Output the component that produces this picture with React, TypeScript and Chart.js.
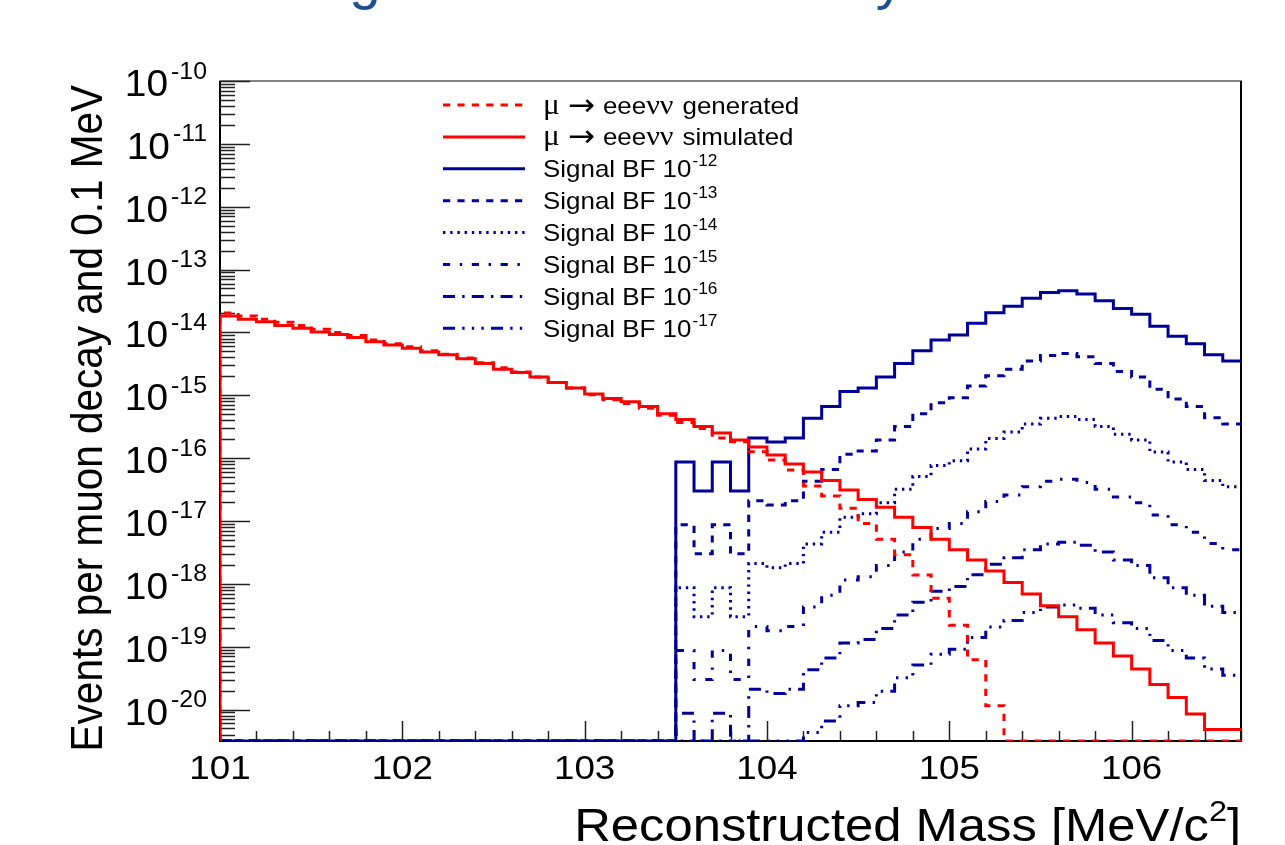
import React, { useEffect, useRef } from 'react';
import { Chart, registerables } from 'chart.js';

Chart.register(...registerables);

// ---------------- data ----------------
const X_MIN = 101.0;
const X_MAX = 106.6;
const BIN_WIDTH = 0.1;
const Y_MIN = 3.16e-21;
const Y_MAX = 1e-10;

const xTickValues = [101, 102, 103, 104, 105, 106];
const xTickLabels = ['101', '102', '103', '104', '105', '106'];
const yDecadeExponents = [-10, -11, -12, -13, -14, -15, -16, -17, -18, -19, -20];

const xAxisTitle = 'Reconstructed Mass [MeV/c';
const yAxisTitle = 'Events per muon decay and 0.1 MeV';
const slideTitle = 'Background and Sensitivity';

// mu -> eeevv (internal conversion), generated
const bgGenerated = [
  2.04e-14, 1.82e-14, 1.62e-14, 1.45e-14, 1.29e-14, 1.12e-14, 1.0e-14, 8.9e-15, 7.6e-15, 6.6e-15,
  5.9e-15, 5.1e-15, 4.5e-15, 3.9e-15, 3.3e-15, 2.75e-15, 2.35e-15, 1.95e-15, 1.6e-15, 1.3e-15,
  1.02e-15, 8.5e-16, 7.4e-16, 6.2e-16, 4.8e-16, 3.7e-16, 2.95e-16, 2.1e-16, 1.82e-16, 1.26e-16,
  9.3e-17, 6.5e-17, 3.6e-17, 2.5e-17, 1.6e-17, 9.1e-18, 5.1e-18, 2.9e-18, 1.38e-18, 5.9e-19,
  2.2e-19, 6.2e-20, 1.15e-20, 0, 0, 0, 0, 0, 0, 0,
  0, 0, 0, 0, 0, 0,
];

// mu -> eeevv, simulated
const bgSimulated = [
  1.82e-14, 1.62e-14, 1.48e-14, 1.29e-14, 1.17e-14, 1.02e-14, 9.3e-15, 8.3e-15, 7.1e-15, 6.3e-15,
  5.6e-15, 4.9e-15, 4.4e-15, 3.8e-15, 3.2e-15, 2.6e-15, 2.3e-15, 1.95e-15, 1.6e-15, 1.3e-15,
  1.05e-15, 8.9e-16, 7.9e-16, 6.6e-16, 5.1e-16, 4.1e-16, 3.2e-16, 2.5e-16, 1.95e-16, 1.5e-16,
  1.12e-16, 8.1e-17, 6.0e-17, 4.4e-17, 3.1e-17, 2.2e-17, 1.66e-17, 1.15e-17, 7.9e-18, 5.1e-18,
  3.5e-18, 2.4e-18, 1.6e-18, 1.05e-18, 6.9e-19, 4.5e-19, 3.0e-19, 1.86e-19, 1.15e-19, 7.1e-20,
  4.4e-20, 2.5e-20, 1.55e-20, 8.5e-21, 4.8e-21, 4.8e-21,
];

const signalBF12 = [
  0, 0, 0, 0, 0, 0, 0, 0, 0, 0, 0, 0, 0, 0, 0, 0, 0, 0, 0, 0, 0, 0, 0, 0, 0,
  8.7e-17, 3.0e-17, 8.7e-17, 3.0e-17, 2.1e-16, 1.8e-16, 2.1e-16, 4.3e-16, 6.6e-16, 1.15e-15,
  1.3e-15, 1.95e-15, 3.2e-15, 5.1e-15, 7.6e-15, 9.1e-15, 1.4e-14, 2.05e-14, 2.6e-14, 3.5e-14,
  4.3e-14, 4.6e-14, 4.1e-14, 3.2e-14, 2.4e-14, 1.95e-14, 1.25e-14, 8.7e-15, 6.6e-15, 4.4e-15,
  3.5e-15,
];
const signalBF13 = [
  0, 0, 0, 0, 0, 0, 0, 0, 0, 0, 0, 0, 0, 0, 0, 0, 0, 0, 0, 0, 0, 0, 0, 0, 0,
  8.7e-18, 3.0e-18, 8.7e-18, 3.0e-18, 2.1e-17, 1.8e-17, 2.1e-17, 4.3e-17, 6.6e-17, 1.15e-16,
  1.3e-16, 1.95e-16, 3.2e-16, 5.1e-16, 7.6e-16, 9.1e-16, 1.4e-15, 2.05e-15, 2.6e-15, 3.5e-15,
  4.3e-15, 4.6e-15, 4.1e-15, 3.2e-15, 2.4e-15, 1.95e-15, 1.25e-15, 8.7e-16, 6.6e-16, 4.4e-16,
  3.5e-16,
];
const signalBF14 = [
  0, 0, 0, 0, 0, 0, 0, 0, 0, 0, 0, 0, 0, 0, 0, 0, 0, 0, 0, 0, 0, 0, 0, 0, 0,
  8.7e-19, 3.0e-19, 8.7e-19, 3.0e-19, 2.1e-18, 1.8e-18, 2.1e-18, 4.3e-18, 6.6e-18, 1.15e-17,
  1.3e-17, 1.95e-17, 3.2e-17, 5.1e-17, 7.6e-17, 9.1e-17, 1.4e-16, 2.05e-16, 2.6e-16, 3.5e-16,
  4.3e-16, 4.6e-16, 4.1e-16, 3.2e-16, 2.4e-16, 1.95e-16, 1.25e-16, 8.7e-17, 6.6e-17, 4.4e-17,
  3.5e-17,
];
const signalBF15 = [
  0, 0, 0, 0, 0, 0, 0, 0, 0, 0, 0, 0, 0, 0, 0, 0, 0, 0, 0, 0, 0, 0, 0, 0, 0,
  8.7e-20, 3.0e-20, 8.7e-20, 3.0e-20, 2.1e-19, 1.8e-19, 2.1e-19, 4.3e-19, 6.6e-19, 1.15e-18,
  1.3e-18, 1.95e-18, 3.2e-18, 5.1e-18, 7.6e-18, 9.1e-18, 1.4e-17, 2.05e-17, 2.6e-17, 3.5e-17,
  4.3e-17, 4.6e-17, 4.1e-17, 3.2e-17, 2.4e-17, 1.95e-17, 1.25e-17, 8.7e-18, 6.6e-18, 4.4e-18,
  3.5e-18,
];
const signalBF16 = [
  0, 0, 0, 0, 0, 0, 0, 0, 0, 0, 0, 0, 0, 0, 0, 0, 0, 0, 0, 0, 0, 0, 0, 0, 0,
  8.7e-21, 3.0e-21, 8.7e-21, 3.0e-21, 2.1e-20, 1.8e-20, 2.1e-20, 4.3e-20, 6.6e-20, 1.15e-19,
  1.3e-19, 1.95e-19, 3.2e-19, 5.1e-19, 7.6e-19, 9.1e-19, 1.4e-18, 2.05e-18, 2.6e-18, 3.5e-18,
  4.3e-18, 4.6e-18, 4.1e-18, 3.2e-18, 2.4e-18, 1.95e-18, 1.25e-18, 8.7e-19, 6.6e-19, 4.4e-19,
  3.5e-19,
];
const signalBF17 = [
  0, 0, 0, 0, 0, 0, 0, 0, 0, 0, 0, 0, 0, 0, 0, 0, 0, 0, 0, 0, 0, 0, 0, 0, 0,
  8.7e-22, 3.0e-22, 8.7e-22, 3.0e-22, 2.1e-21, 1.8e-21, 2.1e-21, 4.3e-21, 6.6e-21, 1.15e-20,
  1.3e-20, 1.95e-20, 3.2e-20, 5.1e-20, 7.6e-20, 9.1e-20, 1.4e-19, 2.05e-19, 2.6e-19, 3.5e-19,
  4.3e-19, 4.6e-19, 4.1e-19, 3.2e-19, 2.4e-19, 1.95e-19, 1.25e-19, 8.7e-20, 6.6e-20, 4.4e-20,
  3.5e-20,
];

const signalExponents = ['-12', '-13', '-14', '-15', '-16', '-17'];

// ---------------- styles ----------------
const RED = '#ff0000';
const BLUE = '#000099';
const FONT = '"Liberation Sans", Arial, Helvetica, sans-serif';
const SERIF = '"Liberation Serif", "DejaVu Serif", serif';
const SYM = '"DejaVu Sans", sans-serif';
const HS = 1.08; // horizontal text stretch

const DASH2 = [7.2, 7.2];
const DASH3 = [2.4, 4.8];
const DASH4 = [7.2, 9.6, 2.4, 9.6];
const DASH5 = [12, 7.2, 2.4, 7.2];
const DASH6 = [12, 7.2, 2.4, 7.2, 2.4, 7.2, 2.4, 7.2];

type Series = { label: string; values: number[]; color: string; dash: number[]; order: number };

const seriesList: Series[] = [
  { label: 'μ → eeeνν generated', values: bgGenerated, color: RED, dash: DASH2, order: 1 },
  { label: 'μ → eeeνν simulated', values: bgSimulated, color: RED, dash: [], order: 0 },
  { label: 'Signal BF 10-12', values: signalBF12, color: BLUE, dash: [], order: 2 },
  { label: 'Signal BF 10-13', values: signalBF13, color: BLUE, dash: DASH2, order: 3 },
  { label: 'Signal BF 10-14', values: signalBF14, color: BLUE, dash: DASH3, order: 4 },
  { label: 'Signal BF 10-15', values: signalBF15, color: BLUE, dash: DASH4, order: 5 },
  { label: 'Signal BF 10-16', values: signalBF16, color: BLUE, dash: DASH5, order: 6 },
  { label: 'Signal BF 10-17', values: signalBF17, color: BLUE, dash: DASH6, order: 7 },
];

// histogram outline points: start at the floor, one point per bin low edge, final upper edge
function histPoints(values: number[]) {
  const clamp = (v: number) => (v > Y_MIN ? v : Y_MIN);
  const pts: { x: number; y: number }[] = [{ x: X_MIN, y: Y_MIN }];
  values.forEach((v, i) => pts.push({ x: X_MIN + i * BIN_WIDTH, y: clamp(v) }));
  pts.push({ x: X_MIN + values.length * BIN_WIDTH, y: clamp(values[values.length - 1]) });
  return pts;
}

type Part = { t: string; size: number; dy?: number; fam?: string; gap?: number };

function partsWidth(ctx: CanvasRenderingContext2D, parts: Part[]) {
  let w = 0;
  for (const p of parts) {
    ctx.font = `${p.size}px ${p.fam || FONT}`;
    w += ctx.measureText(p.t).width * HS + (p.gap || 0);
  }
  return w;
}

function drawParts(
  ctx: CanvasRenderingContext2D,
  parts: Part[],
  x: number,
  y: number,
  align: 'left' | 'right' | 'center',
) {
  const w = partsWidth(ctx, parts);
  let cx = align === 'right' ? x - w : align === 'center' ? x - w / 2 : x;
  for (const p of parts) {
    ctx.font = `${p.size}px ${p.fam || FONT}`;
    const pw = ctx.measureText(p.t).width * HS;
    ctx.save();
    ctx.translate(cx, y + (p.dy || 0));
    ctx.scale(HS, 1);
    ctx.textAlign = 'left';
    ctx.textBaseline = 'alphabetic';
    ctx.fillText(p.t, 0, 0);
    ctx.restore();
    cx += pw + (p.gap || 0);
  }
}

const decorPlugin = {
  id: 'rootDecor',
  beforeDatasetsDraw(chart: any) {
    const ctx: CanvasRenderingContext2D = chart.ctx;
    const { left, right, top, bottom } = chart.chartArea;
    const xs = chart.scales.x;
    const ys = chart.scales.y;
    ctx.save();
    // frame
    ctx.strokeStyle = '#333';
    ctx.lineWidth = 1.2;
    ctx.strokeRect(left, top, right - left, bottom - top);
    ctx.strokeStyle = '#000';
    ctx.lineWidth = 2;
    ctx.beginPath();
    ctx.moveTo(left, top);
    ctx.lineTo(left, bottom);
    ctx.lineTo(right, bottom);
    ctx.lineTo(right, top);
    ctx.stroke();

    // y ticks (log)
    ctx.lineWidth = 1.5;
    ctx.strokeStyle = '#222';
    ctx.beginPath();
    for (let e = -21; e <= -10; e++) {
      for (let k = 1; k <= 9; k++) {
        const v = k * Math.pow(10, e);
        if (v < Y_MIN * 0.999 || v > Y_MAX * 1.001) continue;
        const py = Math.round(ys.getPixelForValue(v)) + 0.5;
        const len = k === 1 ? 30 : 15;
        ctx.moveTo(left, py);
        ctx.lineTo(left + len, py);
      }
    }
    ctx.stroke();

    // x ticks every 0.2
    ctx.beginPath();
    for (let i = 0; X_MIN + i * 0.2 <= X_MAX + 1e-9; i++) {
      const v = X_MIN + i * 0.2;
      const px = Math.round(xs.getPixelForValue(v)) + 0.5;
      const major = Math.abs(v - Math.round(v)) < 1e-6;
      const len = major ? 20 : 10;
      ctx.moveTo(px, bottom);
      ctx.lineTo(px, bottom - len);
    }
    ctx.stroke();

    // y tick labels
    ctx.fillStyle = '#000';
    for (const e of yDecadeExponents) {
      const py = ys.getPixelForValue(Math.pow(10, e));
      drawParts(
        ctx,
        [
          { t: '10', size: 36, gap: 3 },
          { t: String(e), size: 23, dy: -17.5 },
        ],
        207,
        py + 15,
        'right',
      );
    }

    // x tick labels
    xTickValues.forEach((v, i) => {
      const px = xs.getPixelForValue(v);
      drawParts(ctx, [{ t: xTickLabels[i], size: 34 }], px, 779, 'center');
    });

    // x title
    drawParts(
      ctx,
      [
        { t: xAxisTitle, size: 47 },
        { t: '2', size: 30, dy: -20 },
        { t: ']', size: 47 },
      ],
      right,
      841,
      'right',
    );

    // y title (rotated)
    ctx.save();
    ctx.translate(102, 85);
    ctx.rotate(-Math.PI / 2);
    ctx.scale(1, HS);
    ctx.font = `40.5px ${FONT}`;
    ctx.textAlign = 'right';
    ctx.textBaseline = 'alphabetic';
    ctx.fillText(yAxisTitle, 0, 0);
    ctx.restore();

    ctx.restore();
  },
  afterDraw(chart: any) {
    const ctx: CanvasRenderingContext2D = chart.ctx;
    ctx.save();
    // legend
    const x0 = 443;
    const x1 = 525;
    const tx = 543;
    seriesList.forEach((s, i) => {
      const ly = 105 + 31.9 * i;
      ctx.strokeStyle = s.color;
      ctx.lineWidth = 3;
      ctx.setLineDash(s.dash);
      ctx.beginPath();
      ctx.moveTo(x0, ly);
      ctx.lineTo(x1, ly);
      ctx.stroke();
      ctx.setLineDash([]);
      ctx.fillStyle = '#000';
      let parts: Part[];
      if (i < 2) {
        const word = i === 0 ? 'generated' : 'simulated';
        parts = [
          { t: 'μ', size: 29, fam: SERIF, gap: 8 },
          { t: '→', size: 30, fam: SYM, dy: 1, gap: 8 },
          { t: 'eee', size: 24 },
          { t: 'νν', size: 28, fam: SERIF, gap: 9 },
          { t: word, size: 24 },
        ];
      } else {
        parts = [
          { t: 'Signal BF 10', size: 24, gap: 1 },
          { t: signalExponents[i - 2], size: 16, dy: -11 },
        ];
      }
      drawParts(ctx, parts, tx, ly + 8.5, 'left');
    });

    // slide title (cut off at the top of the picture, only descenders visible)
    ctx.font = `100px ${FONT}`;
    const iG = slideTitle.indexOf('g');
    const iY = slideTitle.lastIndexOf('y');
    const gc = ctx.measureText(slideTitle.slice(0, iG)).width + ctx.measureText('g').width / 2;
    const yc = ctx.measureText(slideTitle.slice(0, iY)).width + ctx.measureText('y').width / 2;
    const size = (100 * 525) / (yc - gc);
    ctx.font = `${size}px ${FONT}`;
    ctx.fillStyle = '#1d4f91';
    ctx.textAlign = 'left';
    ctx.textBaseline = 'alphabetic';
    ctx.fillText(slideTitle, 365 - (gc * size) / 100, -2);
    ctx.restore();
  },
};

export default function App() {
  const ref = useRef<HTMLCanvasElement>(null);
  useEffect(() => {
    if (!ref.current) return;
    const datasets = seriesList.map((s) => ({
      label: s.label,
      data: histPoints(s.values),
      borderColor: s.color,
      backgroundColor: s.color,
      borderWidth: 3,
      borderDash: s.dash,
      pointRadius: 0,
      fill: false,
      stepped: true as const,
      tension: 0,
      order: s.order,
    }));
    const chart = new Chart(ref.current, {
      type: 'line',
      data: { datasets },
      options: {
        animation: false,
        responsive: false,
        devicePixelRatio: 1,
        layout: { padding: { left: 220, top: 81, right: 44, bottom: 104 } },
        scales: {
          x: { type: 'linear', min: X_MIN, max: X_MAX, display: false },
          y: { type: 'logarithmic', min: Y_MIN, max: Y_MAX, display: false },
        },
        plugins: { legend: { display: false }, tooltip: { enabled: false }, title: { display: false } },
      },
      plugins: [decorPlugin],
    } as any);
    return () => chart.destroy();
  }, []);
  return (
    <div style={{ position: 'fixed', left: 0, top: 0, width: 1285, height: 845, background: '#fff' }}>
      <canvas ref={ref} width={1285} height={845} style={{ display: 'block', width: 1285, height: 845 }} />
    </div>
  );
}
